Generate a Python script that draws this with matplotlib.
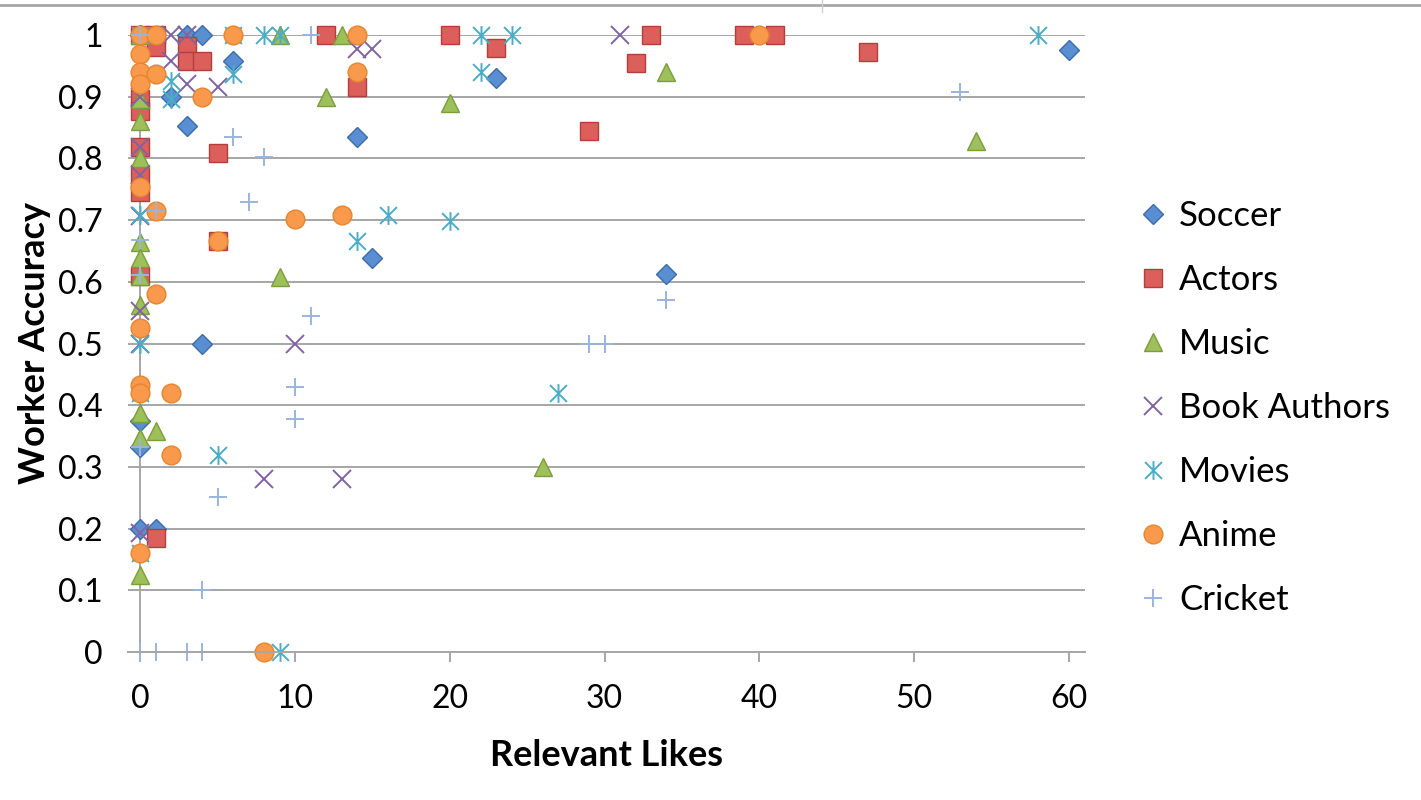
import matplotlib
matplotlib.use("Agg")
import matplotlib.pyplot as plt
from matplotlib.path import Path
from matplotlib.lines import Line2D

plt.rcParams['font.family'] = ['Lato', 'DejaVu Sans']

# Relevant likes (x) and worker accuracy (y) per category
soccer_x = [0, 3, 4, 6, 2, 3, 14, 15, 23, 34, 60, 4, 0, 0, 0, 1]
soccer_y = [1.0, 1.0, 1.0, 0.958, 0.9, 0.852, 0.834, 0.638, 0.93, 0.612, 0.976, 0.5, 0.375, 0.333, 0.2, 0.2]

actors_x = [0, 1, 1, 3, 3, 4, 12, 20, 23, 33, 32, 29, 39, 41, 47, 14, 5, 5, 1,
            0, 0, 0, 0, 0, 0]
actors_y = [1.0, 1.0, 0.98, 0.982, 0.958, 0.958, 1.0, 1.0, 0.979, 1.0, 0.955, 0.844, 1.0, 1.0, 0.972,
            0.916, 0.808, 0.666, 0.185, 0.896, 0.877, 0.818, 0.774, 0.745, 0.609]

music_x = [0, 9, 13, 12, 20, 34, 54, 9, 26, 1, 0, 0, 0, 0, 0, 0, 0, 0, 0, 0]
music_y = [1.0, 1.0, 1.0, 0.9, 0.89, 0.94, 0.828, 0.607, 0.3, 0.358, 0.897, 0.86, 0.8, 0.665,
           0.638, 0.609, 0.562, 0.388, 0.347, 0.124]

authors_x = [2, 3, 31, 14, 15, 2, 3, 5, 0, 0, 0, 0, 0, 0, 10, 8, 13, 0]
authors_y = [1.0, 1.0, 1.0, 0.977, 0.977, 0.958, 0.92, 0.916, 0.9, 0.818, 0.773, 0.707,
             0.552, 0.5, 0.5, 0.281, 0.281, 0.193]

movies_x = [0, 6, 8, 9, 22, 24, 58, 22, 6, 2, 2, 0, 16, 20, 14, 27, 5, 9, 0, 0, 0]
movies_y = [1.0, 1.0, 1.0, 1.0, 1.0, 1.0, 1.0, 0.94, 0.937, 0.925, 0.897, 0.709, 0.709, 0.699,
            0.666, 0.42, 0.32, 0.0, 0.5, 0.42, 0.16]

anime_x = [0, 1, 6, 14, 40, 0, 0, 1, 0, 4, 14, 0, 1, 10, 13, 5, 1, 0, 0, 0, 2, 2, 0, 8]
anime_y = [1.0, 1.0, 1.0, 1.0, 1.0, 0.969, 0.94, 0.937, 0.92, 0.9, 0.94, 0.753, 0.714, 0.701,
           0.709, 0.666, 0.581, 0.525, 0.432, 0.42, 0.42, 0.32, 0.161, 0.0]

cricket_x = [0, 11, 6, 8, 7, 1, 0, 0, 11, 10, 10, 0, 5, 4, 0, 1, 3, 4, 53, 34, 29, 30]
cricket_y = [1.0, 1.0, 0.834, 0.802, 0.729, 0.714, 0.667, 0.611, 0.544, 0.429, 0.377, 0.333,
             0.252, 0.1, 0.0, 0.0, 0.0, 0.0, 0.907, 0.571, 0.5, 0.5]

x_ticks = [0, 10, 20, 30, 40, 50, 60]
y_ticks = [0, 0.1, 0.2, 0.3, 0.4, 0.5, 0.6, 0.7, 0.8, 0.9, 1]
y_tick_labels = ['0', '0.1', '0.2', '0.3', '0.4', '0.5', '0.6', '0.7', '0.8', '0.9', '1']

# Excel-like asterisk: an X plus a vertical bar
asterisk = Path([(0, -1), (0, 1), (-0.9, -0.9), (0.9, 0.9), (-0.9, 0.9), (0.9, -0.9)],
                [Path.MOVETO, Path.LINETO, Path.MOVETO, Path.LINETO, Path.MOVETO, Path.LINETO])

grid_col = '#A6A6A6'

fig = plt.figure(figsize=(14.21, 8), dpi=100)
ax = fig.add_axes([128 / 1421, 148 / 800, (1085 - 128) / 1421, 617 / 800])

ax.set_xlim(-0.8, 61.05)
ax.set_ylim(0, 1)

for y in y_ticks[1:]:
    ax.axhline(y, color=grid_col, lw=1.4, zorder=0)
ax.axvline(0, color=grid_col, lw=1.4, zorder=0)

ms = 13.5
ax.plot(soccer_x, soccer_y, ls='none', marker='D', ms=9.8, mfc='#5A8ED2', mec='#3D6CAA',
        mew=1.0, label='Soccer', clip_on=False)
ax.plot(actors_x, actors_y, ls='none', marker='s', ms=ms, mfc='#DC5F5B', mec='#B23F3B',
        mew=1.0, label='Actors', clip_on=False)
ax.plot(music_x, music_y, ls='none', marker='^', ms=ms, mfc='#9DC05A', mec='#7C9C3D',
        mew=1.0, label='Music', clip_on=False)
ax.plot(authors_x, authors_y, ls='none', marker='x', ms=ms, mec='#8064A2',
        mew=1.4, label='Book Authors', clip_on=False)
ax.plot(movies_x, movies_y, ls='none', marker=asterisk, ms=ms, mec='#4BACC6',
        mew=1.4, label='Movies', clip_on=False)
ax.plot(anime_x, anime_y, ls='none', marker='o', ms=ms, mfc='#F8994B', mec='#E58530',
        mew=1.0, label='Anime', clip_on=False)
ax.plot(cricket_x, cricket_y, ls='none', marker='+', ms=ms, mec='#9AB4DC',
        mew=1.4, label='Cricket', clip_on=False)

for s in ['top', 'right', 'left']:
    ax.spines[s].set_visible(False)
ax.spines['bottom'].set_color(grid_col)
ax.spines['bottom'].set_linewidth(1.4)

ax.set_xticks(x_ticks)
ax.set_yticks(y_ticks)
ax.set_yticklabels(y_tick_labels)
ax.tick_params(axis='x', direction='out', length=7, width=1.4, color=grid_col,
               labelsize=23, pad=16)
ax.tick_params(axis='y', length=0, labelsize=23, pad=18)

ax.set_xlabel('Relevant Likes', fontsize=26, fontweight='bold', labelpad=18)
ax.set_ylabel('Worker Accuracy', fontsize=26, fontweight='bold', labelpad=5)

fig.legend(loc='upper left', bbox_to_anchor=(1120 / 1421, 1 - 183 / 800), frameon=False,
           fontsize=25, handlelength=0.9, handletextpad=0.3, labelspacing=0.92,
           borderpad=0, numpoints=1)

# thin frame line along the top edge of the picture
fig.add_artist(Line2D([0, 1], [1 - 4.5 / 800] * 2, transform=fig.transFigure,
                      color='#A6A6A6', lw=2))
fig.add_artist(Line2D([822 / 1421] * 2, [1, 1 - 12 / 800], transform=fig.transFigure,
                      color='#D0D0D0', lw=1))

fig.savefig('out.png', dpi=100)
